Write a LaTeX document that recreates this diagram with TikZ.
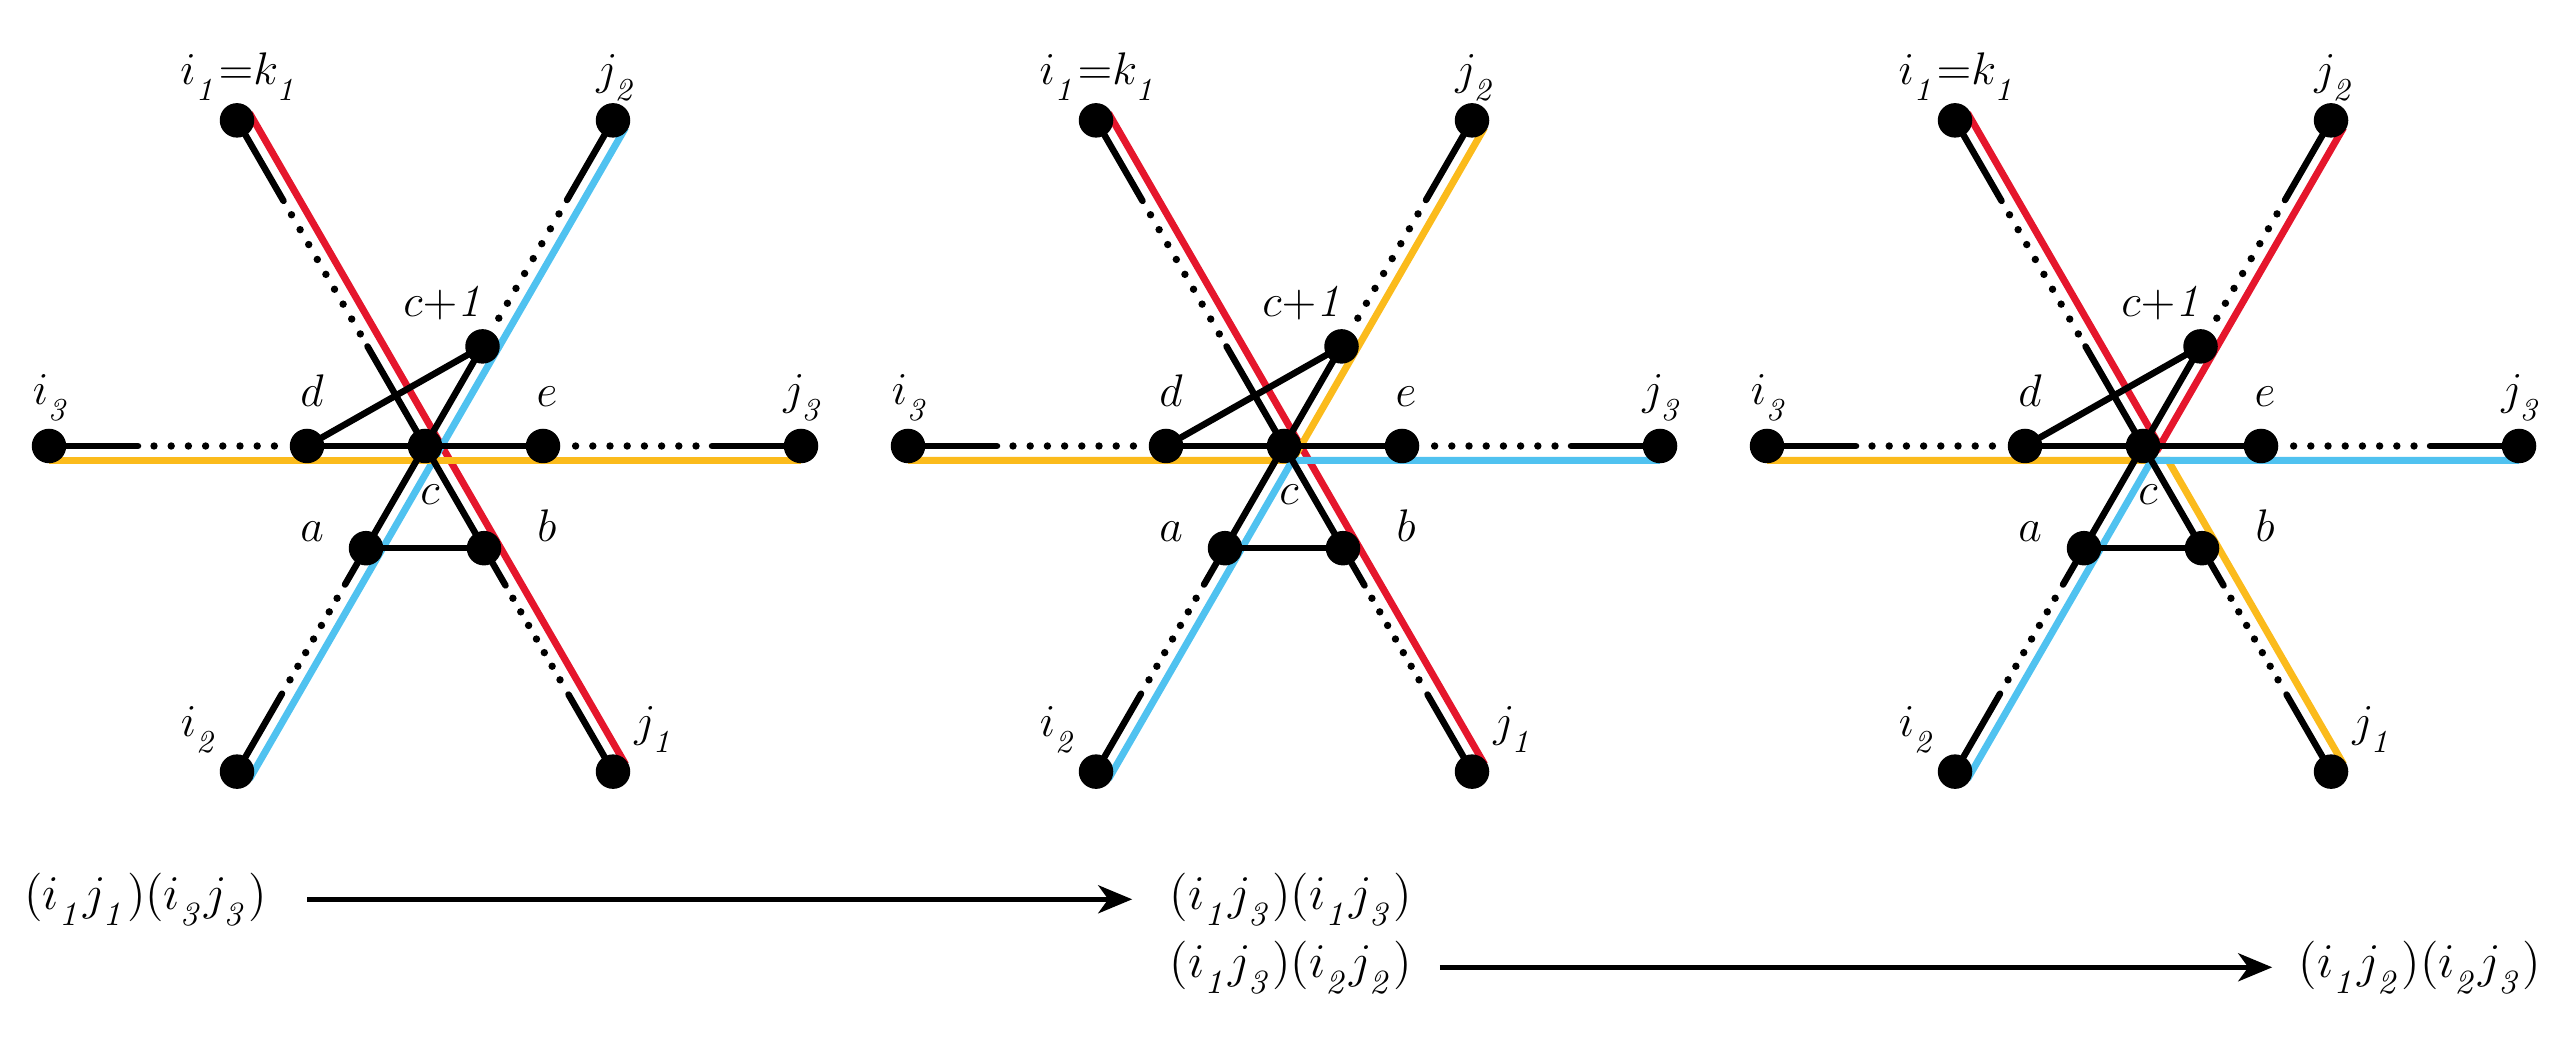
\RequirePackage{fix-cm}
\documentclass[tikz,border=0pt]{standalone}
\usetikzlibrary{arrows.meta,backgrounds}
\definecolor{redline}{RGB}{229,22,44}
\definecolor{blueline}{RGB}{80,194,240}
\definecolor{yellowline}{RGB}{251,187,28}
\newcommand{\lsub}[1]{_{\raisebox{-0.2em}{$\scriptstyle\mathit{#1}$}}}
\begin{document}
\begin{tikzpicture}
\tikzstyle{node_style} = [circle,fill=black,inner sep=0,minimum size=3.45mm]
\tikzstyle{edge_style} = [black, line width=0.65mm, line cap=round]
\tikzstyle{dot_style1} = [black, line width=0.74mm, line cap=round, dash pattern=on 0pt off 1.72mm]
\tikzstyle{dot_style2} = [black, line width=0.74mm, line cap=round, dash pattern=on 0pt off 1.57mm]
\tikzstyle{red_style} = [redline, line width=0.7mm]
\tikzstyle{blue_style} = [blueline, line width=0.7mm]
\tikzstyle{yellow_style} = [yellowline, line width=0.7mm]
\tikzstyle{label_style} = [font=\fontsize{13}{15}\selectfont, inner sep=0, anchor=base]
\tikzstyle{text_style} = [font=\fontsize{13.8}{17}\selectfont, inner sep=0, anchor=base]
\tikzstyle{arrow_style} = [black, line width=0.5mm, -{Stealth[length=3.4mm,width=2.8mm,inset=1mm]}]
\useasboundingbox (0,0) rectangle (25.73,10.42);

% first star
\begin{scope}[shift={(4.25,5.96)}]
    \node[node_style] (s1c) at (0,0) {};
    \node[node_style] (s1d) at (-1.18,0) {};
    \node[node_style] (s1e) at (1.18,0) {};
    \node[node_style] (s1cc) at (60:1.15) {};
    \node[node_style] (s1a) at (240:1.18) {};
    \node[node_style] (s1b) at (300:1.18) {};
    \node[node_style] (s1i1) at (120:3.76) {};
    \node[node_style] (s1j1) at (300:3.76) {};
    \node[node_style] (s1i2) at (240:3.76) {};
    \node[node_style] (s1j2) at (60:3.76) {};
    \node[node_style] (s1i3) at (180:3.76) {};
    \node[node_style] (s1j3) at (0:3.76) {};

    \draw[edge_style] (s1d.center) -- (s1e.center);
    \draw[edge_style] (s1d.center) -- (s1cc.center);
    \draw[edge_style] (s1a.center) -- (s1b.center);
    \draw[edge_style] (s1c.center) -- (s1cc.center);
    \draw[edge_style] (s1c.center) -- ++(120:1.15);
    \draw[edge_style] (s1c.center) -- ++(240:1.60);
    \draw[edge_style] (s1c.center) -- ++(300:1.61);
    \draw[edge_style] (s1i3.center) -- ++(0:0.89);
    \draw[edge_style] (s1j3.center) -- ++(180:0.89);
    \draw[edge_style] (s1i1.center) -- ++(300:0.93);
    \draw[edge_style] (s1j2.center) -- ++(240:0.92);
    \draw[edge_style] (s1i2.center) -- ++(60:0.90);
    \draw[edge_style] (s1j1.center) -- ++(120:0.89);
    \draw[dot_style1] ([shift={(180:2.71)}]s1c.center) -- ++(0:1.21);
    \draw[dot_style1] ([shift={(0:2.71)}]s1c.center) -- ++(180:1.21);
    \draw[dot_style1] ([shift={(120:2.67)}]s1c.center) -- ++(300:1.38);
    \draw[dot_style1] ([shift={(60:2.68)}]s1c.center) -- ++(240:1.21);
    \draw[dot_style2] ([shift={(240:2.70)}]s1c.center) -- ++(60:0.95);
    \draw[dot_style2] ([shift={(300:2.70)}]s1c.center) -- ++(120:0.95);

    \node[label_style] (s1li1) at (-1.85,3.61) {$i\lsub1{=}k\lsub1$};
    \node[label_style] (s1lj2) at (1.92,3.61) {$j\lsub2$};
    \node[label_style] (s1li3) at (-3.73,0.41) {$i\lsub3$};
    \node[label_style] (s1lj3) at (3.79,0.41) {$j\lsub3$};
    \node[label_style] (s1li2) at (-2.25,-2.91) {$i\lsub2$};
    \node[label_style] (s1lj1) at (2.30,-2.91) {$j\lsub1$};
    \node[label_style] (s1lcc) at (0.20,1.29) {$c{+}\mathit{1}$};
    \node[label_style] (s1ld) at (-1.13,0.39) {$d$};
    \node[label_style] (s1le) at (1.22,0.39) {$e$};
    \node[label_style] (s1lc) at (0.05,-0.59) {$c$};
    \node[label_style] (s1la) at (-1.13,-0.96) {$a$};
    \node[label_style] (s1lb) at (1.22,-0.96) {$b$};
\end{scope}

% second star
\begin{scope}[shift={(12.84,5.96)}]
    \node[node_style] (s2c) at (0,0) {};
    \node[node_style] (s2d) at (-1.18,0) {};
    \node[node_style] (s2e) at (1.18,0) {};
    \node[node_style] (s2cc) at (60:1.15) {};
    \node[node_style] (s2a) at (240:1.18) {};
    \node[node_style] (s2b) at (300:1.18) {};
    \node[node_style] (s2i1) at (120:3.76) {};
    \node[node_style] (s2j1) at (300:3.76) {};
    \node[node_style] (s2i2) at (240:3.76) {};
    \node[node_style] (s2j2) at (60:3.76) {};
    \node[node_style] (s2i3) at (180:3.76) {};
    \node[node_style] (s2j3) at (0:3.76) {};

    \draw[edge_style] (s2d.center) -- (s2e.center);
    \draw[edge_style] (s2d.center) -- (s2cc.center);
    \draw[edge_style] (s2a.center) -- (s2b.center);
    \draw[edge_style] (s2c.center) -- (s2cc.center);
    \draw[edge_style] (s2c.center) -- ++(120:1.15);
    \draw[edge_style] (s2c.center) -- ++(240:1.60);
    \draw[edge_style] (s2c.center) -- ++(300:1.61);
    \draw[edge_style] (s2i3.center) -- ++(0:0.89);
    \draw[edge_style] (s2j3.center) -- ++(180:0.89);
    \draw[edge_style] (s2i1.center) -- ++(300:0.93);
    \draw[edge_style] (s2j2.center) -- ++(240:0.92);
    \draw[edge_style] (s2i2.center) -- ++(60:0.90);
    \draw[edge_style] (s2j1.center) -- ++(120:0.89);
    \draw[dot_style1] ([shift={(180:2.71)}]s2c.center) -- ++(0:1.21);
    \draw[dot_style1] ([shift={(0:2.71)}]s2c.center) -- ++(180:1.21);
    \draw[dot_style1] ([shift={(120:2.67)}]s2c.center) -- ++(300:1.38);
    \draw[dot_style1] ([shift={(60:2.68)}]s2c.center) -- ++(240:1.21);
    \draw[dot_style2] ([shift={(240:2.70)}]s2c.center) -- ++(60:0.95);
    \draw[dot_style2] ([shift={(300:2.70)}]s2c.center) -- ++(120:0.95);

    \node[label_style] (s2li1) at (-1.85,3.61) {$i\lsub1{=}k\lsub1$};
    \node[label_style] (s2lj2) at (1.92,3.61) {$j\lsub2$};
    \node[label_style] (s2li3) at (-3.73,0.41) {$i\lsub3$};
    \node[label_style] (s2lj3) at (3.79,0.41) {$j\lsub3$};
    \node[label_style] (s2li2) at (-2.25,-2.91) {$i\lsub2$};
    \node[label_style] (s2lj1) at (2.30,-2.91) {$j\lsub1$};
    \node[label_style] (s2lcc) at (0.20,1.29) {$c{+}\mathit{1}$};
    \node[label_style] (s2ld) at (-1.13,0.39) {$d$};
    \node[label_style] (s2le) at (1.22,0.39) {$e$};
    \node[label_style] (s2lc) at (0.05,-0.59) {$c$};
    \node[label_style] (s2la) at (-1.13,-0.96) {$a$};
    \node[label_style] (s2lb) at (1.22,-0.96) {$b$};
\end{scope}

% third star
\begin{scope}[shift={(21.43,5.96)}]
    \node[node_style] (s3c) at (0,0) {};
    \node[node_style] (s3d) at (-1.18,0) {};
    \node[node_style] (s3e) at (1.18,0) {};
    \node[node_style] (s3cc) at (60:1.15) {};
    \node[node_style] (s3a) at (240:1.18) {};
    \node[node_style] (s3b) at (300:1.18) {};
    \node[node_style] (s3i1) at (120:3.76) {};
    \node[node_style] (s3j1) at (300:3.76) {};
    \node[node_style] (s3i2) at (240:3.76) {};
    \node[node_style] (s3j2) at (60:3.76) {};
    \node[node_style] (s3i3) at (180:3.76) {};
    \node[node_style] (s3j3) at (0:3.76) {};

    \draw[edge_style] (s3d.center) -- (s3e.center);
    \draw[edge_style] (s3d.center) -- (s3cc.center);
    \draw[edge_style] (s3a.center) -- (s3b.center);
    \draw[edge_style] (s3c.center) -- (s3cc.center);
    \draw[edge_style] (s3c.center) -- ++(120:1.15);
    \draw[edge_style] (s3c.center) -- ++(240:1.60);
    \draw[edge_style] (s3c.center) -- ++(300:1.61);
    \draw[edge_style] (s3i3.center) -- ++(0:0.89);
    \draw[edge_style] (s3j3.center) -- ++(180:0.89);
    \draw[edge_style] (s3i1.center) -- ++(300:0.93);
    \draw[edge_style] (s3j2.center) -- ++(240:0.92);
    \draw[edge_style] (s3i2.center) -- ++(60:0.90);
    \draw[edge_style] (s3j1.center) -- ++(120:0.89);
    \draw[dot_style1] ([shift={(180:2.71)}]s3c.center) -- ++(0:1.21);
    \draw[dot_style1] ([shift={(0:2.71)}]s3c.center) -- ++(180:1.21);
    \draw[dot_style1] ([shift={(120:2.67)}]s3c.center) -- ++(300:1.38);
    \draw[dot_style1] ([shift={(60:2.68)}]s3c.center) -- ++(240:1.21);
    \draw[dot_style2] ([shift={(240:2.70)}]s3c.center) -- ++(60:0.95);
    \draw[dot_style2] ([shift={(300:2.70)}]s3c.center) -- ++(120:0.95);

    \node[label_style] (s3li1) at (-1.85,3.61) {$i\lsub1{=}k\lsub1$};
    \node[label_style] (s3lj2) at (1.92,3.61) {$j\lsub2$};
    \node[label_style] (s3li3) at (-3.73,0.41) {$i\lsub3$};
    \node[label_style] (s3lj3) at (3.79,0.41) {$j\lsub3$};
    \node[label_style] (s3li2) at (-2.25,-2.91) {$i\lsub2$};
    \node[label_style] (s3lj1) at (2.30,-2.91) {$j\lsub1$};
    \node[label_style] (s3lcc) at (0.20,1.29) {$c{+}\mathit{1}$};
    \node[label_style] (s3ld) at (-1.13,0.39) {$d$};
    \node[label_style] (s3le) at (1.22,0.39) {$e$};
    \node[label_style] (s3lc) at (0.05,-0.59) {$c$};
    \node[label_style] (s3la) at (-1.13,-0.96) {$a$};
    \node[label_style] (s3lb) at (1.22,-0.96) {$b$};
\end{scope}

% coloured paths
\begin{scope}[on background layer]
    \draw[red_style] ([shift={(30:0.145)}]s1i1.center) -- ([shift={(30:0.145)}]s1j1.center);
    \draw[blue_style] ([shift={(-30:0.145)}]s1i2.center) -- ([shift={(-30:0.145)}]s1j2.center);
    \draw[yellow_style] ([shift={(0,-0.145)}]s1i3.center) -- ([shift={(0,-0.145)}]s1j3.center);

    \draw[red_style] ([shift={(30:0.145)}]s2i1.center) -- ([shift={(30:0.145)}]s2j1.center);
    \draw[yellow_style] ([shift={(0,-0.145)}]s2i3.center) -- ([shift={(0.084,-0.145)}]s2c.center) -- ([shift={(-30:0.145)}]s2j2.center);
    \draw[blue_style] ([shift={(-30:0.145)}]s2i2.center) -- ([shift={(0.084,-0.145)}]s2c.center) -- ([shift={(0,-0.145)}]s2j3.center);

    \draw[red_style] ([shift={(30:0.145)}]s3i1.center) -- ([shift={(0.167,0)}]s3c.center) -- ([shift={(-30:0.145)}]s3j2.center);
    \draw[yellow_style] ([shift={(0,-0.145)}]s3i3.center) -- ([shift={(0.251,-0.145)}]s3c.center) -- ([shift={(30:0.145)}]s3j1.center);
    \draw[blue_style] ([shift={(-30:0.145)}]s3i2.center) -- ([shift={(0.084,-0.145)}]s3c.center) -- ([shift={(0,-0.145)}]s3j3.center);
\end{scope}

% transpositions
\node[text_style] (t1) at (1.455,1.33) {$(i\lsub1 j\lsub1)(i\lsub3 j\lsub3)$};
\node[text_style] (t2) at (12.91,1.33) {$(i\lsub1 j\lsub3)(i\lsub1 j\lsub3)$};
\node[text_style] (t3) at (12.91,0.65) {$(i\lsub1 j\lsub3)(i\lsub2 j\lsub2)$};
\node[text_style] (t4) at (24.20,0.65) {$(i\lsub1 j\lsub2)(i\lsub2 j\lsub3)$};

\draw[arrow_style, shorten <=4mm, shorten >=3.7mm] (t1) -- (t2);
\draw[arrow_style, shorten <=2.7mm, shorten >=2.6mm] (t3) -- (t4);
\end{tikzpicture}
\end{document}
